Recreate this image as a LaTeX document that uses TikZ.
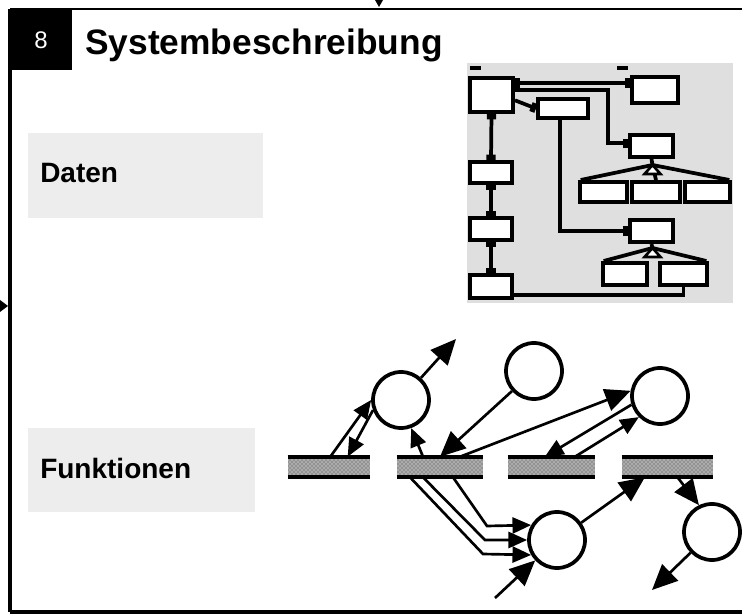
\documentclass[tikz,border=0pt]{standalone}
\usepackage{fontspec}
\setmainfont{Liberation Sans}
\usetikzlibrary{arrows.meta,patterns,calc}
\tikzset{sq/.tip={Square[length=4pt,width=7pt]}}
\begin{document}
\begin{tikzpicture}[x=0.75pt,y=-0.75pt,
  erbox/.style={draw,line width=3pt,fill=white,inner sep=0pt,rectangle},
  erline/.style={line width=2.8pt},
  proc/.style={circle,draw,line width=2.8pt,fill=white,minimum size=42pt,inner sep=0pt},
  store/.style={rectangle,inner sep=0pt,minimum height=15pt,fill=gray!85,postaction={pattern=crosshatch dots,pattern color=white}},
  flow/.style={line width=2pt,-{Triangle[length=19pt,width=17pt]}},
  sflow/.style={line width=2pt,-{Triangle[length=14pt,width=12pt]}},
  lbl/.style={font=\bfseries\fontsize{21pt}{24pt}\selectfont,anchor=base west,inner sep=0pt},
]
\useasboundingbox (0,0) rectangle (742,616);
% frame
\draw[line width=2.2pt] (10,9) -- (742,9);
\draw[line width=2.4pt] (10,9) -- (10,612);
\draw[line width=2.4pt] (10,612) -- (742,612);
\fill (0,300) -- (8,306) -- (0,312) -- cycle;
\fill (375,0) -- (383,0) -- (379,7) -- cycle;
\fill (10,8) rectangle (72,70);
\node[text=white,font=\fontsize{18pt}{20pt}\selectfont,inner sep=0pt] (num) at (41,40) {8};
\node[font=\bfseries\fontsize{26.5pt}{30pt}\selectfont,anchor=base west,inner sep=0pt] (title) at (85,55) {Systembeschreibung};
% label areas
\fill[gray!14] (28,133) rectangle (263,218);
\fill[gray!14] (28,428) rectangle (255,512);
\node[lbl] (daten) at (40,183) {Daten};
\node[lbl] (funk) at (40,478) {Funktionen};
% ER diagram
\fill[gray!25] (467,63) rectangle (733,303);
\draw[line width=2.4pt] (470,68) -- (481,68);
\draw[line width=2.4pt] (617,68) -- (628,68);
\node[erbox,minimum width=32.25pt,minimum height=25.5pt] (A) at (491.5,95) {};
\node[erbox,minimum width=34.5pt,minimum height=19.5pt] (B) at (655,90) {};
\node[erbox,minimum width=37.5pt,minimum height=14.25pt] (C) at (563,108.5) {};
\node[erbox,minimum width=32.25pt,minimum height=16.5pt] (D) at (651.5,146) {};
\node[erbox,minimum width=35.25pt,minimum height=15pt] (E1) at (603.5,192) {};
\node[erbox,minimum width=36pt,minimum height=15pt] (E2) at (656,192) {};
\node[erbox,minimum width=33.75pt,minimum height=15pt] (E3) at (707.5,192) {};
\node[erbox,minimum width=32.25pt,minimum height=16.5pt] (F) at (651.5,231) {};
\node[erbox,minimum width=33pt,minimum height=16.5pt] (G1) at (625,274) {};
\node[erbox,minimum width=35.25pt,minimum height=16.5pt] (G2) at (683.5,274) {};
\node[erbox,minimum width=31.5pt,minimum height=15.75pt] (L1) at (491,172.5) {};
\node[erbox,minimum width=31.5pt,minimum height=16.5pt] (L2) at (491,229) {};
\node[erbox,minimum width=31.5pt,minimum height=17.25pt] (L3) at (491,286.5) {};
\begin{scope}[erline]
\draw[sq-sq] ([yshift=5.25pt]B.west -| A.east) -- ([yshift=5.25pt]B.west);
\coordinate (k1) at (608,90);
\draw[-sq] (A.east |- k1) -- (k1) |- ([yshift=2pt]D.west);
\draw[-sq] ([yshift=-4pt]A.east) -- (C.west);
\draw[-sq] ([xshift=-2pt]C.south) |- (F.west);
\draw[sq-sq] (A.south) -- (L1.north);
\draw[sq-sq] (L1.south) -- (L2.north);
\draw[sq-sq] (L2.south) -- (L3.north);
\draw (L3.east |- 0,295) -| (G2.south);
\coordinate (tD) at ($(D.south)+(1,6)$);
\draw (D.south) -- (tD);
\draw ([xshift=2pt]E1.north west) -- (tD) -- ([xshift=-2pt]E3.north east);
\draw (tD) -- (E2.north);
\draw[fill=white,line width=2pt] (tD) -- ++(-8,9) -- ++(16,0) -- cycle;
\coordinate (tF) at ($(F.south)+(1,4)$);
\draw (F.south) -- (tF);
\draw ([xshift=2pt]G1.north west) -- (tF) -- ([xshift=-2pt]G2.north east);
\draw[fill=white,line width=2pt] (tF) -- ++(-8,9) -- ++(16,0) -- cycle;
\end{scope}
% data flow diagram
\node[store,minimum width=61.5pt] (S1) at (329,467) {};
\node[store,minimum width=64.5pt] (S2) at (440,467) {};
\node[store,minimum width=65.25pt] (S3) at (551.5,467) {};
\node[store,minimum width=68.25pt] (S4) at (667.5,467) {};
\foreach \s in {S1,S2,S3,S4}{
  \draw[line width=2.8pt] (\s.north west) -- (\s.north east);
  \draw[line width=2.8pt] (\s.south west) -- (\s.south east);
}
\node[proc] (P1) at (401,400) {};
\node[proc] (P2) at (534,371) {};
\node[proc] (P3) at (660,396) {};
\node[proc] (P4) at (557,540) {};
\node[proc] (P5) at (712,532) {};
\coordinate (x1) at (456,339);
\coordinate (x2) at (495,598);
\coordinate (x3) at (652,590);
\draw[flow] (P1) -- (x1);
\draw[sflow] ([xshift=1pt]S1.north) -- (P1.west);
\draw[sflow] (P1.200) -- ([xshift=14pt]S1.north);
\draw[sflow] ([xshift=-12.75pt]S2.north) -- (P1.290);
\draw[flow] (P2) -- (S2.north);
\draw[flow] ([xshift=15pt]S2.north) -- (P3.170);
\draw[sflow] (P3.197) -- ([xshift=-5pt]S3.north);
\draw[sflow] ([xshift=17.6pt]S3.north) -- (P3.225);
\coordinate (b1) at (487,526);
\coordinate (b2) at (485,540);
\coordinate (b3) at (483,554);
\draw[sflow] ([xshift=9.75pt]S2.south) -- (b1) -- (P4.150);
\draw[sflow] ([xshift=-12.75pt]S2.south) -- (b2) -- (P4.180);
\draw[sflow] ([xshift=-22.5pt]S2.south) -- (b3) -- (P4.210);
\draw[flow] (x2) -- (P4);
\draw[flow] (P4) -- ([xshift=-17pt]S4.south);
\draw[flow] ([xshift=7.5pt]S4.south) -- (P5.116);
\draw[flow] (P5) -- (x3);
\end{tikzpicture}
\end{document}
